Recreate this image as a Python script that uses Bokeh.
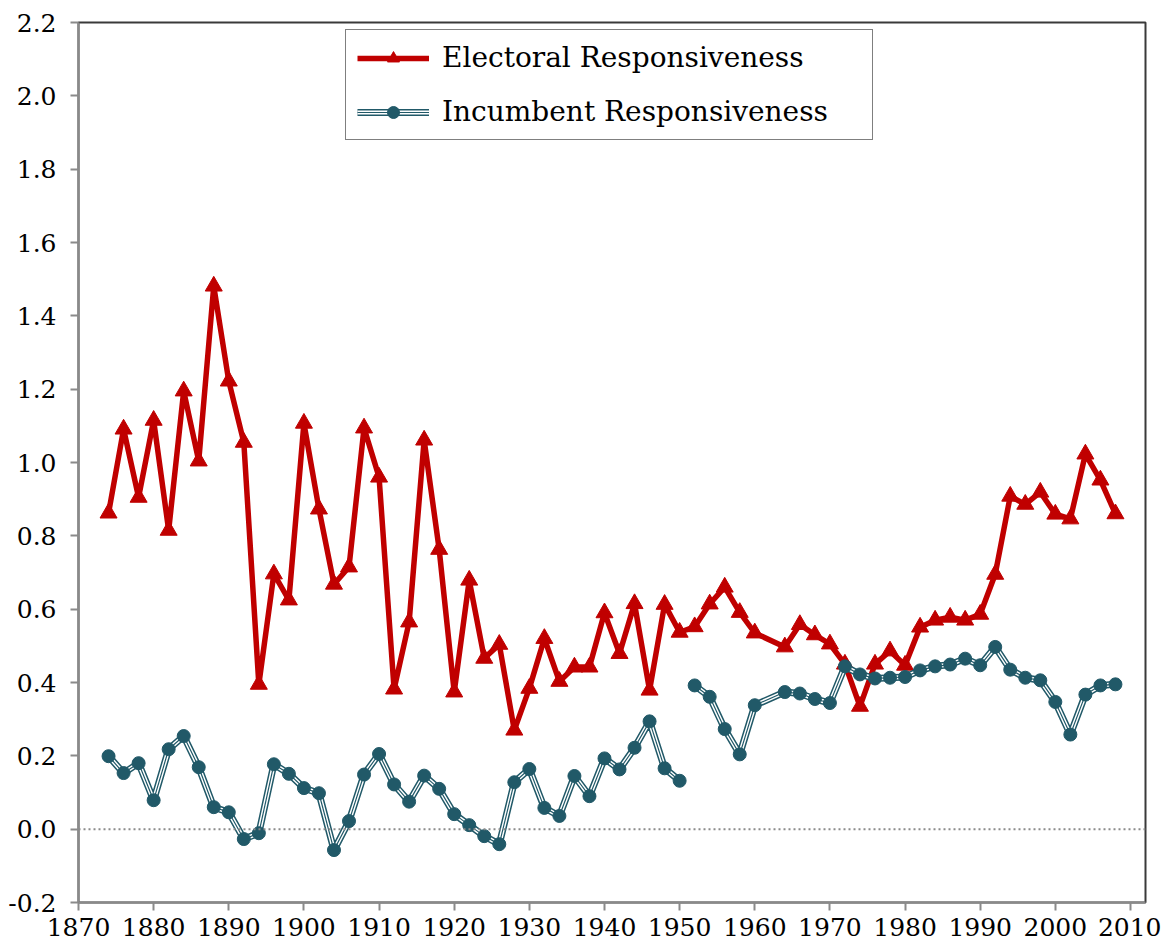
from bokeh.plotting import figure
from bokeh.models import Range1d, FixedTicker, NumeralTickFormatter, Span, Legend, LegendItem
from bokeh.embed import file_html
from bokeh.resources import INLINE

years = [1874, 1876, 1878, 1880, 1882, 1884, 1886, 1888, 1890, 1892, 1894, 1896, 1898,
         1900, 1902, 1904, 1906, 1908, 1910, 1912, 1914, 1916, 1918, 1920, 1922, 1924,
         1926, 1928, 1930, 1932, 1934, 1936, 1938, 1940, 1942, 1944, 1946, 1948, 1950,
         1952, 1954, 1956, 1958, 1960, 1964, 1966, 1968, 1970, 1972, 1974, 1976, 1978,
         1980, 1982, 1984, 1986, 1988, 1990, 1992, 1994, 1996, 1998, 2000, 2002, 2004,
         2006, 2008]

electoral = [0.862, 1.091, 0.905, 1.115, 0.815, 1.195, 1.004, 1.481, 1.222, 1.055, 0.395,
             0.696, 0.625, 1.107, 0.873, 0.668, 0.715, 1.094, 0.960, 0.382, 0.565, 1.061,
             0.763, 0.374, 0.679, 0.466, 0.504, 0.270, 0.384, 0.520, 0.403, 0.442, 0.442,
             0.590, 0.479, 0.615, 0.379, 0.613, 0.537, 0.552, 0.614, 0.660, 0.591, 0.535,
             0.497, 0.558, 0.530, 0.505, 0.450, 0.335, 0.450, 0.486, 0.447, 0.551, 0.570,
             0.578, 0.570, 0.586, 0.695, 0.908, 0.886, 0.919, 0.859, 0.846, 1.023, 0.952,
             0.860]

incumbent = [0.199, 0.153, 0.180, 0.079, 0.218, 0.254, 0.169, 0.060, 0.046, -0.027, -0.011,
             0.177, 0.151, 0.112, 0.098, -0.057, 0.022, 0.149, 0.205, 0.122, 0.075, 0.146,
             0.110, 0.041, 0.011, -0.019, -0.041, 0.128, 0.164, 0.058, 0.036, 0.145, 0.090,
             0.193, 0.163, 0.222, 0.294, 0.166, 0.132, 0.392, 0.361, 0.273, 0.204, 0.338,
             0.374, 0.370, 0.355, 0.344, 0.444, 0.422, 0.411, 0.413, 0.415, 0.433, 0.444,
             0.449, 0.465, 0.447, 0.497, 0.435, 0.413, 0.406, 0.347, 0.258, 0.367, 0.392,
             0.395]

incumbent_break_after = 1950  # the incumbent series is not connected across this year

y_ticks = [-0.2, 0.0, 0.2, 0.4, 0.6, 0.8, 1.0, 1.2, 1.4, 1.6, 1.8, 2.0, 2.2]
x_ticks = [1870, 1880, 1890, 1900, 1910, 1920, 1930, 1940, 1950, 1960, 1970, 1980, 1990, 2000, 2010]

RED = "#C00000"
TEAL = "#215968"
FONT = "DejaVu Serif"

p = figure(frame_width=1067, frame_height=880, output_backend="svg", toolbar_location=None,
           x_range=Range1d(1870, 2012), y_range=Range1d(-0.2, 2.2),
           min_border_left=78, min_border_top=22, min_border_right=16, min_border_bottom=42)
p.background_fill_color = "white"
p.border_fill_color = "white"
p.xgrid.visible = False
p.ygrid.visible = False
p.outline_line_color = "#3a3a3a"
p.outline_line_width = 2

for ax, ticks in ((p.xaxis, x_ticks), (p.yaxis, y_ticks)):
    ax.ticker = FixedTicker(ticks=ticks)
    ax.axis_line_color = "#8a8a8a"
    ax.axis_line_width = 2
    ax.major_tick_line_color = "#8a8a8a"
    ax.major_tick_line_width = 2
    ax.major_tick_out = 8
    ax.major_tick_in = 0
    ax.minor_tick_line_color = None
    ax.major_label_text_font = FONT
    ax.major_label_text_color = "black"
p.xaxis.major_label_text_font_size = "25px"
p.yaxis.major_label_text_font_size = "25px"
p.yaxis.formatter = NumeralTickFormatter(format="0.0")
p.yaxis.major_label_standoff = 14
p.xaxis.major_label_standoff = 7

zero = Span(location=0, dimension="width", line_color="#8a8a8a", line_width=2, line_dash="2 3")
p.add_layout(zero)

# Electoral series
r_line = p.line(years, electoral, line_color=RED, line_width=5.5)
r_mark = p.scatter(years, electoral, marker="triangle", size=17, fill_color=RED, line_color=RED)

# Incumbent series, split into connected segments
split = years.index(incumbent_break_after) + 1
segments = [(years[:split], incumbent[:split]), (years[split:], incumbent[split:])]
teal_outer, white_mid, teal_core = [], [], []
for xs, ys in segments:
    teal_outer.append(p.line(xs, ys, line_color=TEAL, line_width=7))
    white_mid.append(p.line(xs, ys, line_color="white", line_width=4))
    teal_core.append(p.line(xs, ys, line_color=TEAL, line_width=1.2))
b_mark = p.scatter(years, incumbent, marker="circle", size=13, fill_color=TEAL, line_color=TEAL)

legend = Legend(items=[
    LegendItem(label="Electoral Responsiveness", renderers=[r_line, r_mark]),
    LegendItem(label="Incumbent Responsiveness",
               renderers=[teal_outer[0], white_mid[0], teal_core[0], b_mark]),
], location=(267, 762))
legend.label_text_font = FONT
legend.label_text_font_size = "28px"
legend.label_text_color = "black"
legend.glyph_width = 72
legend.glyph_height = 30
legend.label_standoff = 13
legend.padding = 11
legend.spacing = 21
legend.label_width = 419
legend.border_line_color = "black"
legend.border_line_width = 1.5
legend.background_fill_color = "white"
legend.background_fill_alpha = 1.0
legend.margin = 0
p.add_layout(legend)

open("out.html", "w").write(file_html(p, INLINE))
